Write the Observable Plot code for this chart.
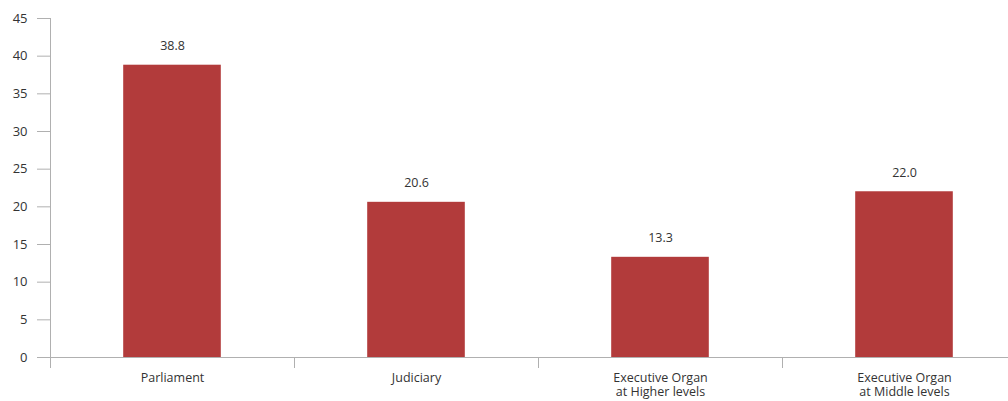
<!DOCTYPE html>
<html>
<head>
<meta charset="utf-8">
<script src="https://cdn.jsdelivr.net/npm/d3@7"></script>
<script src="https://cdn.jsdelivr.net/npm/@observablehq/plot@0.6"></script>
<style>
  html, body { margin: 0; padding: 0; background: #fff; }
  svg { overflow: visible; }
</style>
</head>
<body>
<div id="chart"></div>
<script>
const categories = ["Parliament", "Judiciary", "Executive Organ\nat Higher levels", "Executive Organ\nat Middle levels"];
const values = [38.8, 20.6, 13.3, 22.0];
const valueLabels = ["38.8", "20.6", "13.3", "22.0"];
const yTicks = [0, 5, 10, 15, 20, 25, 30, 35, 40, 45];
const bandEdges = [0, 1, 2, 3, 4];

const data = categories.map((c, i) => ({cat: c, i, value: values[i], label: valueLabels[i]}));

const gray = "#b0b0b0";
const txt = "#333";

const chart = Plot.plot({
  width: 1008,
  height: 401,
  marginLeft: 50,
  marginRight: 0,
  marginTop: 18,
  marginBottom: 44,
  style: {fontFamily: "'Open Sans', sans-serif", fontSize: "12px", color: txt, background: "transparent"},
  x: {domain: [0, 4], range: [50, 1026]},
  y: {domain: [0, 45]},
  marks: [
    Plot.rectY(data, {x1: d => d.i + 0.3, x2: d => d.i + 0.7, y: "value", fill: "#b23b3b"}),
    Plot.ruleX([0], {y1: 0, y2: 45, stroke: gray, strokeWidth: 1}),
    Plot.ruleY([0], {stroke: gray, strokeWidth: 1}),
    Plot.axisY({ticks: yTicks, tickSize: 13, tickPadding: 10, stroke: gray, fill: txt, fontSize: 13, label: null}),
    Plot.axisX({ticks: bandEdges, tickSize: 11, tickFormat: () => "", stroke: gray, label: null}),
    Plot.text(data, {x: d => d.i + 0.5, y: "value", text: "label", dy: -19, fill: txt, fontSize: 12.5, textAnchor: "middle"}),
    Plot.text(data, {x: d => d.i + 0.5, y: 0, text: "cat", dy: 15, lineAnchor: "top", lineHeight: 1.12, fill: txt, fontSize: 12.5, textAnchor: "middle"})
  ]
});
document.getElementById("chart").appendChild(chart);
</script>
</body>
</html>
